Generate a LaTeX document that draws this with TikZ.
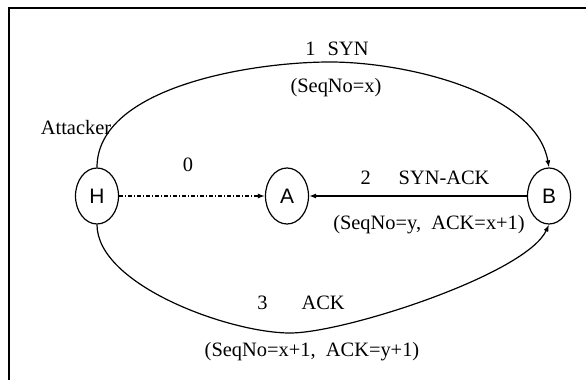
\documentclass[tikz,border=0pt]{standalone}
\usepackage{fontspec}
\setmainfont{Liberation Serif}
\newfontfamily\hostfont{Liberation Sans}
\usepackage{tikz}
\usetikzlibrary{arrows.meta,shapes.geometric,positioning}

\begin{document}
\begin{tikzpicture}[x=1bp,y=1bp,>={Latex[length=7bp,width=5bp]},line width=1.2bp,
    host/.style={draw,ellipse,minimum width=43bp,minimum height=56bp,inner sep=0pt,font=\hostfont\fontsize{21}{21}\selectfont},
    lbl/.style={inner sep=0pt,font=\fontsize{20.5}{22}\selectfont}]

    \useasboundingbox (0,0) rectangle (586,380);
    % frame
    \draw [line width=2bp] (9,0) -- (9,372) -- (586,372);

    \node[host] (H) at (97,184) {H};
    \node[host] (A) at (287,184) {A};
    \node[host] (B) at (549,184) {B};

    \coordinate (top) at (330,318);
    \coordinate (bot) at (290,47);

    % 0 : spoofed
    \draw [->,dash pattern=on 4bp off 2bp on 1bp off 2bp] (H) -- (A);
    % 1 : SYN
    \draw [->] (H.north) to[out=90,in=180,looseness=0.8] (top) to[out=0,in=100,looseness=0.8] (B.north);
    % 2 : SYN-ACK
    \draw [->] (B) -- (A);
    % 3 : ACK
    \draw [->] (H.south) to[out=-90,in=180,looseness=0.7] (bot) to[out=0,in=-115,looseness=0.5] (B.south);

    \node[lbl] (attacker) at (76,252) {Attacker};
    \node[lbl] (l0) at (188,215) {0};
    \node[lbl] (l1) at (337,331) {1\hspace{12bp}SYN};
    \node[lbl] (l1s) at (336,292) {(SeqNo=x)};
    \node[lbl] (l2) at (425,202) {2\hspace{28bp}SYN-ACK};
    \node[lbl] (l2s) at (429,155) {(SeqNo=y,\ \ ACK=x+1)};
    \node[lbl] (l3) at (301,77) {3\hspace{34bp}ACK};
    \node[lbl] (l3s) at (312,28) {(SeqNo=x+1,\ \ ACK=y+1)};

\end{tikzpicture}
\end{document}
